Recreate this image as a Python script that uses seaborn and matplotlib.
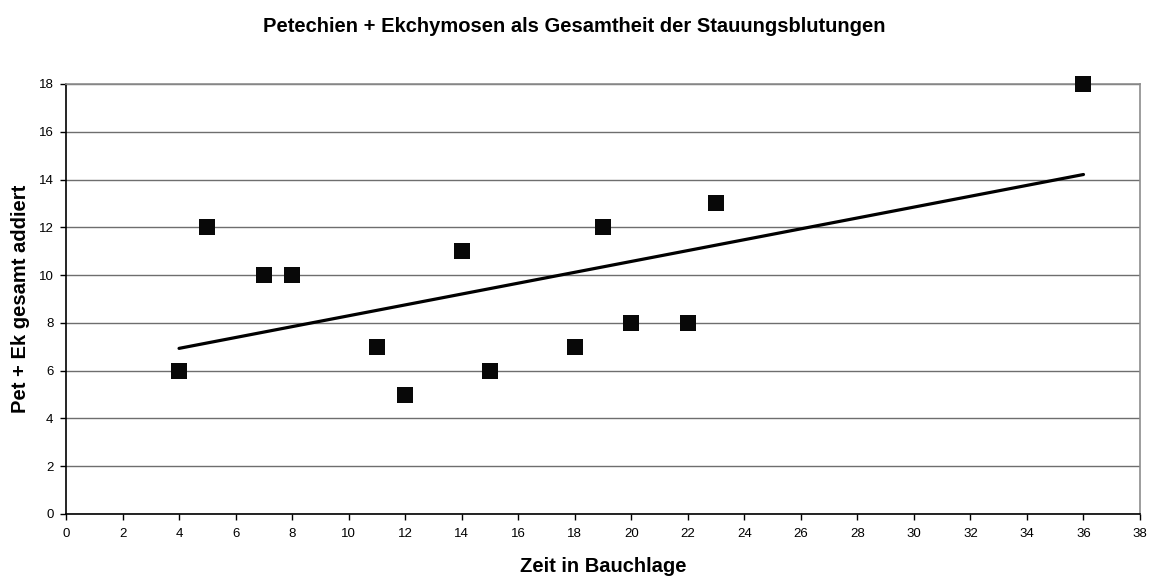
import numpy as np
import pandas as pd
import matplotlib
matplotlib.use("Agg")
import matplotlib.pyplot as plt
import seaborn as sns

# Zeit in Bauchlage vs. Anzahl Stauungsblutungen (Petechien + Ekchymosen)
zeit = [4, 5, 7, 8, 11, 12, 14, 15, 18, 19, 20, 22, 23, 36]
pet_ek = [6, 12, 10, 10, 7, 5, 11, 6, 7, 12, 8, 8, 13, 18]

x_ticks = list(range(0, 40, 2))
y_ticks = list(range(0, 20, 2))

df = pd.DataFrame({"zeit": zeit, "pet_ek": pet_ek})

sns.set_style("white")
plt.rcParams["font.family"] = ["Liberation Sans", "DejaVu Sans"]
plt.rcParams["text.color"] = "black"
plt.rcParams["axes.labelcolor"] = "black"
plt.rcParams["xtick.color"] = "black"
plt.rcParams["ytick.color"] = "black"

fig = plt.figure(figsize=(11.5, 5.77), dpi=100)
ax = fig.add_axes([66 / 1150, 1 - 514 / 577, (1140 - 66) / 1150, (514 - 84) / 577])

sns.regplot(
    data=df, x="zeit", y="pet_ek", ax=ax, ci=None, marker="s",
    scatter_kws={"s": 135, "color": "#080808", "alpha": 1, "linewidths": 0,
                 "clip_on": False, "zorder": 4},
    line_kws={"color": "black", "linewidth": 2.3, "zorder": 3},
)

ax.set_xlim(0, 38)
ax.set_ylim(0, 18)
ax.set_xticks(x_ticks)
ax.set_yticks(y_ticks)
ax.grid(axis="y", color="#6e6e6e", linewidth=1.0)
ax.grid(axis="x", visible=False)
ax.set_axisbelow(True)

for side in ["left", "bottom"]:
    ax.spines[side].set_color("black")
    ax.spines[side].set_linewidth(1.2)
for side in ["top", "right"]:
    ax.spines[side].set_visible(True)
    ax.spines[side].set_color("#8c8c8c")
    ax.spines[side].set_linewidth(1.2)

ax.tick_params(axis="both", direction="out", length=4, width=1, color="black",
               labelsize=9.5, bottom=True, left=True)
ax.tick_params(axis="x", pad=6)
ax.tick_params(axis="y", pad=5)

ax.set_xlabel("Zeit in Bauchlage", fontsize=14.5, fontweight="bold", labelpad=12)
ax.set_ylabel("Pet + Ek gesamt addiert", fontsize=14.5, fontweight="bold", labelpad=6)

fig.text(0.4996, 1 - 27 / 577, "Petechien + Ekchymosen als Gesamtheit der Stauungsblutungen",
         ha="center", va="center", fontsize=14.5, fontweight="bold")

fig.savefig("out.png", dpi=100)
